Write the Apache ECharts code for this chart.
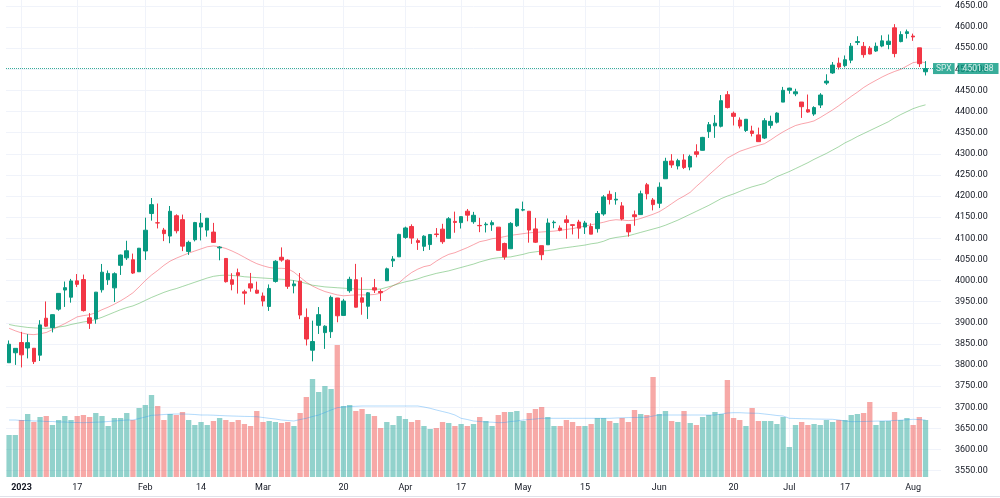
<!DOCTYPE html>
<html>
<head>
<meta charset="utf-8">
<title>SPX</title>
<script src="https://cdn.jsdelivr.net/npm/echarts@6/dist/echarts.min.js"></script>
<style>
  html, body { margin: 0; padding: 0; background: #fff; }
  #chart { width: 1000px; height: 498px; }
</style>
</head>
<body>
<div id="chart"></div>
<script>
// trading days, Dec 29 2022 .. Aug 3 2023
var dates = [
  '2022-12-29','2022-12-30',
  '2023-01-03','2023-01-04','2023-01-05','2023-01-06','2023-01-09','2023-01-10','2023-01-11','2023-01-12','2023-01-13','2023-01-17',
  '2023-01-18','2023-01-19','2023-01-20','2023-01-23','2023-01-24','2023-01-25','2023-01-26','2023-01-27','2023-01-30','2023-01-31',
  '2023-02-01','2023-02-02','2023-02-03','2023-02-06','2023-02-07','2023-02-08','2023-02-09','2023-02-10','2023-02-13','2023-02-14',
  '2023-02-15','2023-02-16','2023-02-17','2023-02-21','2023-02-22','2023-02-23','2023-02-24','2023-02-27','2023-02-28',
  '2023-03-01','2023-03-02','2023-03-03','2023-03-06','2023-03-07','2023-03-08','2023-03-09','2023-03-10','2023-03-13','2023-03-14',
  '2023-03-15','2023-03-16','2023-03-17','2023-03-20','2023-03-21','2023-03-22','2023-03-23','2023-03-24','2023-03-27','2023-03-28',
  '2023-03-29','2023-03-30','2023-03-31',
  '2023-04-03','2023-04-04','2023-04-05','2023-04-06','2023-04-10','2023-04-11','2023-04-12','2023-04-13','2023-04-14','2023-04-17',
  '2023-04-18','2023-04-19','2023-04-20','2023-04-21','2023-04-24','2023-04-25','2023-04-26','2023-04-27','2023-04-28',
  '2023-05-01','2023-05-02','2023-05-03','2023-05-04','2023-05-05','2023-05-08','2023-05-09','2023-05-10','2023-05-11','2023-05-12',
  '2023-05-15','2023-05-16','2023-05-17','2023-05-18','2023-05-19','2023-05-22','2023-05-23','2023-05-24','2023-05-25','2023-05-26',
  '2023-05-30','2023-05-31',
  '2023-06-01','2023-06-02','2023-06-05','2023-06-06','2023-06-07','2023-06-08','2023-06-09','2023-06-12','2023-06-13','2023-06-14',
  '2023-06-15','2023-06-16','2023-06-20','2023-06-21','2023-06-22','2023-06-23','2023-06-26','2023-06-27','2023-06-28','2023-06-29',
  '2023-06-30',
  '2023-07-03','2023-07-05','2023-07-06','2023-07-07','2023-07-10','2023-07-11','2023-07-12','2023-07-13','2023-07-14','2023-07-17',
  '2023-07-18','2023-07-19','2023-07-20','2023-07-21','2023-07-24','2023-07-25','2023-07-26','2023-07-27','2023-07-28','2023-07-31',
  '2023-08-01','2023-08-02','2023-08-03'
];

var open = [
  3805.45,3829.06,3853.29,3840.36,3839.74,3823.37,3910.82,3888.57,3932.35,3977.57,3960.60,3999.28,4002.25,3911.84,3909.04,3978.14,4001.74,3982.71,4036.08,4053.72,4049.27,4020.85,
  4070.07,4158.68,4136.69,4119.57,4105.35,4153.47,4144.25,4068.92,4096.62,4126.70,4119.50,4114.75,4077.39,4052.35,4001.83,4018.60,3973.24,3992.36,3977.19,
  3963.34,3938.68,3998.02,4055.15,4048.26,3987.55,3998.66,3912.77,3835.12,3894.01,3876.74,3878.93,3958.69,3917.47,3975.89,4002.04,3959.21,3939.21,3982.93,3974.13,3999.53,4046.74,4056.18,
  4102.20,4128.03,4094.50,4081.15,4085.20,4110.29,4121.72,4100.04,4140.11,4137.17,4164.26,4139.33,4130.48,4132.14,4132.07,4126.43,4087.78,4075.29,4129.63,
  4166.79,4164.10,4122.25,4082.61,4084.73,4136.98,4124.25,4143.74,4132.24,4138.54,4126.65,4127.95,4122.85,4157.68,4204.15,4190.78,4176.80,4132.96,4155.71,4156.16,4226.71,4190.74,
  4183.03,4241.01,4282.99,4271.34,4285.47,4268.69,4304.88,4308.32,4352.61,4366.29,4365.33,4440.04,4396.11,4380.01,4355.40,4354.17,4344.84,4337.36,4367.48,4374.94,4422.44,
  4450.48,4442.04,4422.62,4404.54,4394.23,4415.55,4467.69,4491.50,4514.61,4508.86,4521.78,4563.87,4554.38,4550.16,4543.39,4555.19,4558.96,4598.26,4565.75,4584.82,
  4578.83,4550.93,4494.27
];
var high = [
  3858.19,3839.85,3878.46,3873.16,3839.74,3906.19,3950.57,3919.83,3970.07,3997.76,4003.95,4015.39,4014.16,3922.94,3972.96,4039.31,4023.92,4019.55,4061.57,4094.21,4063.85,4077.16,
  4148.95,4195.44,4182.36,4124.63,4176.54,4156.85,4156.23,4094.36,4138.90,4159.77,4148.11,4136.54,4081.51,4052.35,4017.37,4028.30,3978.25,4018.05,3997.50,
  3971.73,3990.84,4048.29,4078.49,4050.00,4000.41,4017.81,3934.05,3905.05,3937.29,3894.26,3964.46,3958.91,3956.62,4009.08,4039.49,4007.66,3972.74,4003.83,3979.20,4030.59,4057.85,4110.75,
  4127.66,4133.13,4099.69,4107.32,4109.50,4124.26,4134.37,4150.26,4163.19,4151.72,4169.48,4162.57,4148.57,4138.02,4142.41,4126.43,4089.67,4138.24,4170.06,
  4186.92,4164.10,4148.30,4082.61,4147.02,4142.30,4130.35,4154.28,4132.80,4143.74,4141.25,4135.54,4164.67,4202.20,4212.91,4209.22,4185.68,4132.96,4165.74,4212.87,4231.10,4195.44,
  4232.43,4290.67,4299.28,4288.33,4299.19,4298.01,4322.62,4340.13,4375.37,4391.82,4439.20,4448.47,4400.15,4386.22,4382.25,4366.55,4362.06,4384.42,4390.35,4398.39,4458.48,
  4456.46,4454.06,4422.62,4440.39,4412.60,4443.64,4488.34,4517.38,4527.76,4532.85,4562.30,4578.43,4564.74,4555.00,4563.41,4580.62,4582.47,4607.07,4590.16,4594.22,
  4584.62,4550.93,4519.49
];
var low = [
  3805.45,3800.34,3794.33,3815.77,3802.42,3809.56,3890.42,3877.29,3928.54,3937.56,3947.67,3984.57,3926.59,3885.54,3897.86,3971.64,3989.79,3949.06,4013.29,4048.70,4015.55,4020.44,
  4048.90,4141.88,4123.36,4093.38,4088.39,4111.67,4069.67,4060.79,4092.67,4095.01,4103.98,4089.49,4047.95,3995.19,3976.90,3969.19,3943.08,3973.55,3968.98,
  3939.05,3928.16,3995.17,4044.61,3980.31,3969.76,3908.70,3846.32,3808.86,3873.63,3838.24,3864.11,3901.27,3916.89,3971.19,3936.17,3919.05,3909.16,3970.49,3951.53,3999.53,4032.10,4056.18,
  4098.79,4086.87,4072.56,4069.84,4072.55,4102.61,4086.94,4099.40,4113.20,4123.18,4140.36,4134.49,4114.57,4113.86,4117.77,4071.38,4049.35,4075.29,4127.18,
  4164.12,4089.72,4088.86,4048.28,4084.73,4123.81,4116.65,4098.92,4109.29,4099.12,4110.27,4109.86,4113.62,4153.50,4180.20,4179.68,4142.54,4103.98,4129.73,4156.16,4192.18,4166.15,
  4171.64,4241.01,4266.82,4263.09,4263.96,4261.07,4291.70,4307.79,4337.66,4337.85,4362.60,4407.44,4367.19,4360.14,4351.82,4341.34,4328.08,4335.00,4360.22,4371.97,4422.44,
  4442.29,4436.61,4385.05,4397.40,4389.92,4408.46,4463.23,4489.36,4499.56,4504.90,4514.59,4557.48,4527.56,4535.79,4541.29,4552.42,4547.58,4528.56,4564.01,4573.14,
  4567.53,4505.75,4485.54
];
var close = [
  3849.28,3839.50,3824.14,3852.97,3808.10,3895.08,3892.09,3919.25,3969.61,3983.17,3999.09,3990.97,3928.86,3898.85,3972.61,4019.81,4016.95,4016.22,4060.43,4070.56,4017.77,4076.60,
  4119.21,4179.76,4136.48,4111.08,4164.00,4117.86,4081.50,4090.46,4137.29,4136.13,4147.60,4090.41,4079.09,3997.34,3991.05,4012.32,3970.04,3982.24,3970.15,
  3951.39,3981.35,4045.64,4048.42,3986.37,3992.01,3918.32,3861.59,3855.76,3919.29,3891.93,3960.28,3916.64,3951.57,4002.87,3936.97,3948.72,3970.99,3977.53,3971.27,4027.81,4050.83,4109.31,
  4124.51,4100.60,4090.38,4105.02,4109.11,4108.94,4091.95,4146.22,4137.64,4151.32,4154.87,4154.52,4129.79,4133.52,4137.04,4071.63,4055.99,4135.35,4169.48,
  4167.87,4119.58,4090.75,4061.22,4136.25,4138.12,4119.17,4137.64,4130.62,4124.08,4136.28,4109.90,4158.77,4198.05,4191.98,4192.63,4145.58,4115.24,4151.28,4205.45,4205.52,4179.83,
  4221.02,4282.37,4273.79,4283.85,4267.52,4293.93,4298.86,4338.93,4369.01,4372.59,4425.84,4409.59,4388.71,4365.69,4381.89,4348.33,4328.82,4378.41,4376.86,4396.44,4450.38,
  4455.59,4446.82,4411.59,4398.95,4409.53,4439.26,4472.16,4510.04,4505.42,4522.79,4554.98,4565.72,4534.87,4536.34,4554.64,4567.46,4566.75,4537.41,4582.23,4588.96,
  4576.73,4513.39,4501.88
];

// volume, millions of shares
var volume = [
  1680,1680,2280,2520,2200,2400,2440,2080,2280,2440, 2280,2440,2480,2400,2560,2440,2040,2360,2360,2560,
  2280,2760,2880,3280,2840,2280,2520,2480,2600,2280, 2080,2200,2080,2240,2360,2280,2200,2280,2120,2040,
  2640,2200,2240,2200,2160,2200,2040,2560,3200,3920, 3400,3640,3520,5280,2840,2880,2640,2720,2520,2440,
  1960,2200,2080,2440,2320,2200,2280,2040,1920,1960, 2200,2160,2040,2120,2040,2120,2400,2240,2040,2480,
  2600,2600,2640,2240,2560,2720,2800,2400,2040,2040, 2280,2200,2040,2040,2120,2360,2360,2240,2160,2360,
  2200,2680,2520,2480,4000,2520,2640,2240,2200,2640, 2160,2080,2400,2480,2600,2520,3880,2360,2280,2040,
  2760,2240,2240,2240,2120,2400,1200,2080,2200,2080, 2120,2080,2280,2200,2280,2280,2480,2520,2560,3000,
  2080,2240,2240,2600,2280,2360,2080,2400,2280
];
var volumeMA = [
  2280,2280,2260,2260,2240,2240,2220,2220,2200,2200,2180,2180,
  2172,2180,2192,2200,2220,2240,2260,2280,2280,
  2340,2400,2468,2480,2500,2512,2520,2520,2512,2500,
  2480,2480,2472,2460,2448,2440,2432,2424,2420,2412,
  2380,2348,2320,2280,2260,2240,2300,2348,2420,2480,
  2580,2680,2772,2800,2820,2828,2840,2840,2840,2840,
  2840,2840,2840,2840,2840,2840,2800,2748,2680,2620,
  2560,2480,2348,2300,2240,2220,2200,2192,2172,2180,
  2220,2240,2280,2300,2320,2348,2348,2348,2348,2348,
  2348,2348,2348,2348,2348,2348,2348,2360,2368,2376,
  2380,2384,2388,2440,2480,2480,2480,2480,2480,2480,
  2480,2480,2480,2480,2520,2560,2572,2572,2560,2552,
  2548,2520,2492,2460,2440,2348,2340,2332,2328,2320,
  2316,2312,2308,2280,2240,2212,2216,2220,2228,2236,
  2240,2248,2260,2272,2288,2308,2296,2280
];

// moving averages
var maFast = [
  3887,3881,3876,3873,3872,3874,3877,3884,3891,3898, 3906,3914,3917,3919,3924,3931,3937,3944,3952,3961,
  3971,3985,4000,4013,4024,4036,4046,4053,4059,4065, 4070,4075,4080,4082,4080,4076,4070,4063,4055,4047,
  4040,4035,4031,4029,4029,4028,4020,4008,3996,3987, 3980,3974,3970,3966,3964,3965,3966,3966,3966,3967,
  3970,3978,3988,3995,4008,4019,4027,4033,4036,4046, 4055,4062,4066,4072,4078,4085,4092,4095,4099,4101,
  4104,4107,4109,4111,4113,4114,4115,4116,4117,4119, 4121,4123,4126,4129,4132,4135,4138,4142,4144,4143,
  4142,4143,4147,4152,4157,4163,4172,4182,4192,4200, 4209,4223,4236,4250,4263,4276,4290,4298,4306,4311,
  4316,4320,4324,4333,4343,4352,4360,4367,4371,4374, 4378,4386,4395,4404,4414,4425,4436,4446,4457,4466,
  4474,4482,4489,4495,4500,4508,4516,4518,4516
];
var maSlow = [
  3896,3893,3891,3889,3888,3887,3887,3888,3890,3892, 3896,3899,3902,3904,3908,3913,3919,3925,3931,3936,
  3940,3946,3953,3960,3966,3972,3977,3981,3986,3991, 3996,4001,4006,4010,4012,4013,4012,4011,4009,4008,
  4007,4006,4005,4004,4003,4002,4000,3997,3993,3989, 3987,3985,3984,3983,3982,3981,3980,3979,3979,3979,
  3980,3984,3988,3993,3997,4000,4004,4009,4013,4017, 4020,4023,4027,4031,4035,4039,4044,4048,4052,4054,
  4055,4056,4059,4062,4066,4068,4070,4071,4073,4076, 4078,4080,4082,4084,4087,4089,4093,4099,4102,4104,
  4106,4110,4114,4118,4122,4126,4131,4137,4143,4150, 4157,4164,4171,4178,4186,4194,4200,4205,4211,4217,
  4222,4226,4230,4238,4246,4252,4258,4265,4272,4279, 4287,4294,4301,4309,4317,4326,4333,4341,4348,4355,
  4362,4369,4376,4385,4393,4400,4407,4412,4416
];

// x axis tick labels
var tickDates = ['2023-01-03','2023-01-17','2023-02-01','2023-02-14','2023-03-01','2023-03-20','2023-04-03',
  '2023-04-17','2023-05-01','2023-05-15','2023-06-01','2023-06-20','2023-07-03','2023-07-17','2023-08-01'];
var tickText = ['2023','17','Feb','14','Mar','20','Apr','17','May','15','Jun','20','Jul','17','Aug'];

var UP = '#089981', DOWN = '#f23645';
var UP_VOL = 'rgba(38,166,154,0.5)', DOWN_VOL = 'rgba(239,83,80,0.5)';
var FONT = 'Roboto, sans-serif';

var cats = dates.concat(['pad1', 'pad2']);
var tickMap = {};
tickDates.forEach(function (d, i) { tickMap[d] = tickText[i]; });
var isTick = function (idx, val) { return tickMap[cats[idx]] !== undefined; };

var candles = dates.map(function (d, i) { return [open[i], close[i], low[i], high[i]]; });
var volBars = volume.map(function (v, i) {
  return { value: v, itemStyle: { color: close[i] >= open[i] ? UP_VOL : DOWN_VOL } };
});
var lastClose = close[close.length - 1];

var chart = echarts.init(document.getElementById('chart'));

var option = {
  animation: false,
  backgroundColor: '#fff',
  grid: [
    // price pane, bottom stretched below the dates so 3550..4650 land where they should
    { left: 6, right: 59, top: 0, bottom: 6.24 },
    // volume pane + date axis
    { left: 6, right: 59, top: 0, bottom: 21 }
  ],
  // thin frame line under the date labels
  graphic: [{
    type: 'line', silent: true,
    shape: { x1: 0, y1: 496.5, x2: 1000, y2: 496.5 },
    style: { stroke: '#e0e3eb', lineWidth: 1 }
  }],
  xAxis: [
    { type: 'category', gridIndex: 0, data: cats, show: false, boundaryGap: true },
    {
      type: 'category', gridIndex: 1, data: cats, boundaryGap: true,
      axisLine: { show: false },
      axisTick: { show: false, alignWithLabel: true, interval: isTick },
      axisLabel: {
        interval: isTick, margin: 6, color: '#131722', fontSize: 9, fontFamily: FONT,
        formatter: function (v) {
          var t = tickMap[v] || '';
          return t === '2023' ? '{b|' + t + '}' : t;
        },
        rich: { b: { fontWeight: 'bold', fontSize: 9, color: '#131722', fontFamily: FONT } }
      },
      splitLine: { show: true, interval: isTick, alignWithLabel: true, lineStyle: { color: '#f0f3fa', width: 1 } }
    }
  ],
  yAxis: [
    {
      type: 'value', gridIndex: 0, position: 'right', min: 3500, max: 4664.2, interval: 50,
      axisLine: { show: false }, axisTick: { show: false },
      splitLine: { show: true, showMinLine: false, showMaxLine: false, lineStyle: { color: '#f0f3fa', width: 1 } },
      axisLabel: {
        margin: 14, color: '#131722', fontSize: 9, fontFamily: FONT,
        showMinLabel: false, showMaxLabel: false,
        formatter: function (v) { return (v < 3550 || v > 4650) ? '' : v.toFixed(2); }
      }
    },
    { type: 'value', gridIndex: 1, min: 0, max: 19080, show: false }
  ],
  series: [
    {
      name: 'Volume', type: 'bar', xAxisIndex: 1, yAxisIndex: 1,
      data: volBars, barCategoryGap: '14%', z: 1
    },
    {
      name: 'Volume MA', type: 'line', xAxisIndex: 1, yAxisIndex: 1,
      data: volumeMA, symbol: 'none', z: 2,
      lineStyle: { color: 'rgba(33,150,243,0.35)', width: 1 }
    },
    {
      name: 'MA fast', type: 'line', xAxisIndex: 0, yAxisIndex: 0,
      data: maFast, symbol: 'none', z: 3,
      lineStyle: { color: 'rgba(242,54,69,0.45)', width: 1 }
    },
    {
      name: 'MA slow', type: 'line', xAxisIndex: 0, yAxisIndex: 0,
      data: maSlow, symbol: 'none', z: 3,
      lineStyle: { color: 'rgba(76,175,80,0.5)', width: 1 }
    },
    {
      name: 'SPX', type: 'candlestick', xAxisIndex: 0, yAxisIndex: 0,
      data: candles, barWidth: 4, z: 4,
      itemStyle: { color: UP, color0: DOWN, borderColor: UP, borderColor0: DOWN, borderWidth: 1 },
      markLine: {
        symbol: 'none', silent: true,
        data: [{ yAxis: lastClose }],
        lineStyle: { color: UP, type: 'dotted', width: 1, opacity: 0.8 },
        label: {
          show: true, position: 'end', distance: -8,
          formatter: '{s|SPX}{g| }{p|' + lastClose.toFixed(2) + '}',
          rich: {
            s: { backgroundColor: UP, color: '#fff', fontSize: 8.5, fontFamily: FONT, height: 11, lineHeight: 11, padding: [0, 3] },
            g: { width: 3, fontSize: 8.5 },
            p: { backgroundColor: UP, color: '#fff', fontSize: 8.5, fontFamily: FONT, height: 11, lineHeight: 11, padding: [0, 5] }
          }
        }
      }
    }
  ]
};

chart.setOption(option);
</script>
</body>
</html>
